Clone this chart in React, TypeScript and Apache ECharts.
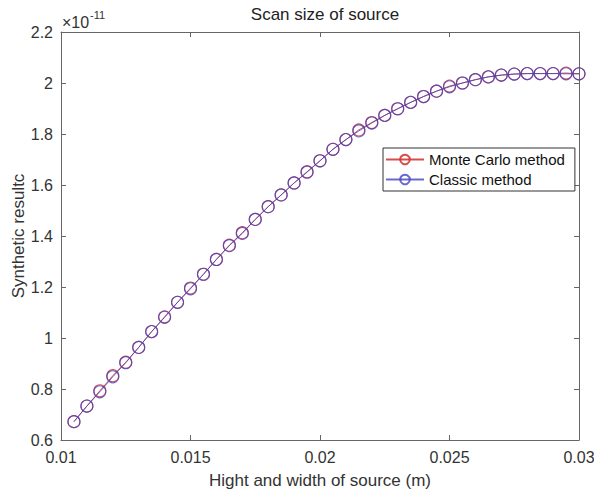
import React, { useEffect, useRef } from "react";
import * as echarts from "echarts";

// Source side length (m), sampled every 0.5 mm
const sourceSize = [
  0.0105, 0.011, 0.0115, 0.012, 0.0125, 0.013, 0.0135, 0.014, 0.0145, 0.015,
  0.0155, 0.016, 0.0165, 0.017, 0.0175, 0.018, 0.0185, 0.019, 0.0195, 0.02,
  0.0205, 0.021, 0.0215, 0.022, 0.0225, 0.023, 0.0235, 0.024, 0.0245, 0.025,
  0.0255, 0.026, 0.0265, 0.027, 0.0275, 0.028, 0.0285, 0.029, 0.0295, 0.03,
];

// Synthetic result, in units of 1e-11
const monteCarlo = [
  0.672, 0.733, 0.793, 0.852, 0.905, 0.963, 1.025, 1.083, 1.140, 1.196,
  1.250, 1.308, 1.364, 1.413, 1.465, 1.515, 1.561, 1.608, 1.652, 1.695,
  1.740, 1.778, 1.816, 1.845, 1.873, 1.899, 1.924, 1.947, 1.968, 1.988,
  2.000, 2.013, 2.024, 2.031, 2.035, 2.037, 2.037, 2.037, 2.039, 2.036,
];

const classic = [
  0.672, 0.733, 0.789, 0.848, 0.903, 0.963, 1.025, 1.081, 1.140, 1.193,
  1.250, 1.308, 1.362, 1.410, 1.465, 1.515, 1.561, 1.608, 1.650, 1.695,
  1.740, 1.778, 1.812, 1.843, 1.873, 1.899, 1.924, 1.947, 1.968, 1.985,
  2.000, 2.013, 2.024, 2.031, 2.035, 2.037, 2.037, 2.037, 2.036, 2.036,
];

const FONT = "'Liberation Sans', Arial, Helvetica, sans-serif";
const AXIS_COLOR = "#666";
const LABEL_COLOR = "#333";
const RED = "#d23a3a";
const BLUE = "#4444c0";

export default function App() {
  const ref = useRef<HTMLDivElement>(null);

  useEffect(() => {
    if (!ref.current) return;
    const chart = echarts.init(ref.current, undefined, { renderer: "svg" });

    const pairs = (ys: number[]) => sourceSize.map((x, i) => [x, ys[i]]);

    const boxAxisLine = { show: true, lineStyle: { color: AXIS_COLOR, width: 1 } };
    const insideTicks = { show: true, inside: true, length: 5, lineStyle: { color: AXIS_COLOR } };

    const lineSeries = (name: string, ys: number[], color: string, z: number, opacity: number) => ({
      name,
      type: "line",
      data: pairs(ys),
      symbol: "circle",
      symbolSize: 12,
      showAllSymbol: true,
      itemStyle: { color: "rgba(255,255,255,0)", borderColor: color, borderWidth: 1.1, opacity },
      lineStyle: { color, width: 1, opacity },
      z,
    });

    chart.setOption({
      animation: false,
      backgroundColor: "#fff",
      textStyle: { fontFamily: FONT },
      title: {
        text: "Scan size of source",
        left: 320,
        textAlign: "center",
        top: 1,
        textStyle: { fontFamily: FONT, fontSize: 17, fontWeight: "normal", color: "#222" },
      },
      grid: {
        left: 61,
        right: 15,
        top: 32,
        bottom: 56,
        containLabel: false,
        outerBoundsMode: "none",
      },
      legend: {
        orient: "vertical",
        left: 383,
        top: 148,
        itemWidth: 38,
        itemHeight: 12,
        itemGap: 5,
        padding: [4, 10, 4, 2],
        borderColor: "#333",
        borderWidth: 1,
        backgroundColor: "#fff",
        textStyle: { fontFamily: FONT, fontSize: 15, color: "#111" },
        data: ["Monte Carlo method", "Classic method"],
      },
      xAxis: [
        {
          type: "value",
          min: 0.01,
          max: 0.03,
          interval: 0.005,
          name: "Hight and width of source (m)",
          nameLocation: "middle",
          nameGap: 32,
          nameMoveOverlap: false,
          nameTextStyle: { fontFamily: FONT, fontSize: 17, color: LABEL_COLOR },
          axisLine: boxAxisLine,
          axisTick: insideTicks,
          splitLine: { show: false },
          axisLabel: {
            fontFamily: FONT,
            fontSize: 16,
            color: LABEL_COLOR,
            margin: 9,
            formatter: (v: number) => String(parseFloat(v.toFixed(4))),
          },
        },
        {
          type: "value",
          position: "top",
          min: 0.01,
          max: 0.03,
          interval: 0.005,
          axisLine: boxAxisLine,
          axisTick: insideTicks,
          axisLabel: { show: false },
          splitLine: { show: false },
        },
      ],
      yAxis: [
        {
          type: "value",
          min: 0.6,
          max: 2.2,
          interval: 0.2,
          name: "Synthetic resultc",
          nameLocation: "middle",
          nameGap: 34,
          nameMoveOverlap: false,
          nameTextStyle: { fontFamily: FONT, fontSize: 17, color: LABEL_COLOR },
          axisLine: boxAxisLine,
          axisTick: insideTicks,
          splitLine: { show: false },
          axisLabel: {
            fontFamily: FONT,
            fontSize: 16,
            color: LABEL_COLOR,
            margin: 8,
            formatter: (v: number) => String(parseFloat(v.toFixed(2))),
          },
        },
        {
          type: "value",
          position: "right",
          min: 0.6,
          max: 2.2,
          interval: 0.2,
          axisLine: boxAxisLine,
          axisTick: insideTicks,
          axisLabel: { show: false },
          splitLine: { show: false },
        },
      ],
      graphic: [
        {
          type: "text",
          left: 62,
          top: 14,
          style: { text: "×10", fontFamily: FONT, fontSize: 16, fill: LABEL_COLOR },
        },
        {
          type: "text",
          left: 90,
          top: 9,
          style: { text: "-11", fontFamily: FONT, fontSize: 11, fill: LABEL_COLOR },
        },
      ],
      series: [
        lineSeries("Monte Carlo method", monteCarlo, RED, 2, 0.9),
        lineSeries("Classic method", classic, BLUE, 3, 0.8),
      ],
    });

    return () => chart.dispose();
  }, []);

  return (
    <div
      ref={ref}
      style={{ position: "fixed", left: 0, top: 0, width: 594, height: 496 }}
    />
  );
}
